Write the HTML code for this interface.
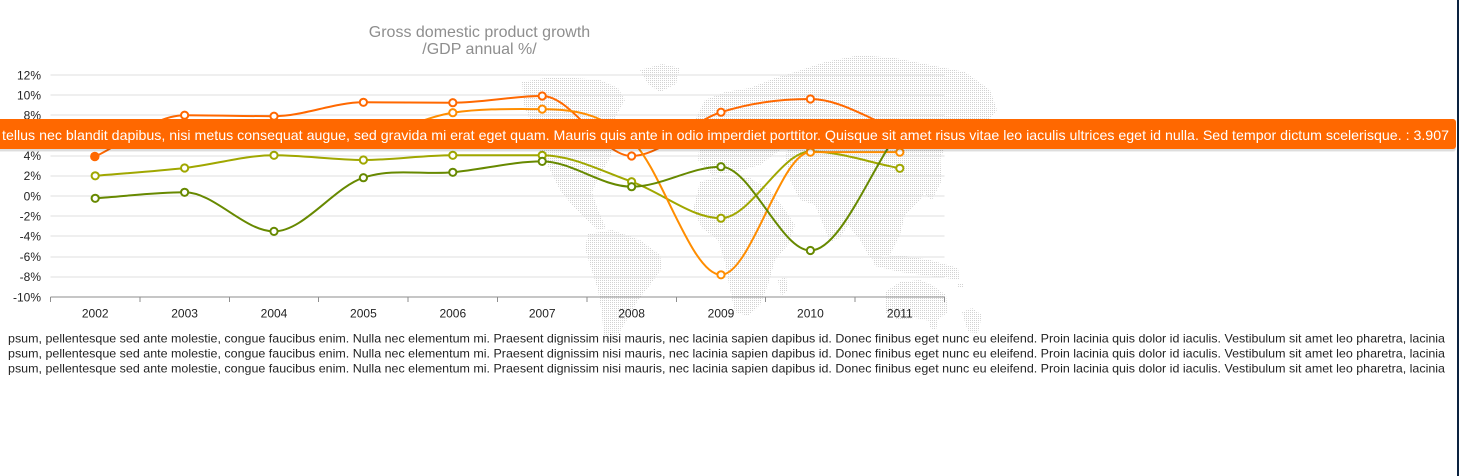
<!DOCTYPE html>
<html>
<head>
<meta charset="utf-8">
<style>
html,body{margin:0;padding:0;background:#fff;}
body{width:1459px;height:476px;overflow:hidden;position:relative;}
svg{position:absolute;left:0;top:0;display:block;}
text{font-family:"Liberation Sans",Arial,sans-serif;}
</style>
</head>
<body>
<svg width="1459" height="476" viewBox="0 0 1459 476" xmlns="http://www.w3.org/2000/svg">
<defs>
<pattern id="dots" width="2" height="2" patternUnits="userSpaceOnUse">
<rect x="0" y="0" width="1" height="1" fill="#d2d2d2"/>
</pattern>
</defs>

<!-- world map -->
<g fill="url(#dots)">
<polygon points="522,82 545,78 575,78 600,80 618,88 625,100 618,112 612,125 614,140 610,158 600,175 592,192 598,210 606,228 598,230 585,218 572,205 560,190 550,170 540,150 532,125 524,105"/>
<polygon points="640,70 662,64 680,68 676,84 660,92 648,84"/>
<polygon points="588,234 612,230 640,240 660,255 662,268 650,285 638,300 628,318 618,335 610,345 604,338 602,315 598,290 590,265 585,248"/>
<polygon points="695,120 705,100 725,92 750,88 775,78 795,72 800,95 792,125 780,150 760,165 735,172 712,175 698,160 700,140"/>
<polygon points="700,182 725,175 750,178 770,190 785,210 795,225 788,245 775,260 768,285 760,305 748,316 735,312 730,290 725,262 718,240 702,228 693,210"/>
<polygon points="778,280 786,277 788,290 781,296"/>
<polygon points="795,72 825,62 860,55 895,58 930,65 965,72 990,90 997,110 985,125 965,130 948,140 940,160 932,180 920,200 905,215 900,235 890,255 870,258 860,240 848,225 840,238 830,242 822,222 815,205 800,200 790,180 785,160 792,125 800,95"/>
<polygon points="930,160 940,155 942,180 932,200 925,195"/>
<polygon points="872,258 900,255 930,260 958,268 960,280 930,276 900,272 875,266"/>
<polygon points="885,292 900,282 920,280 932,285 946,295 948,312 935,322 915,318 898,320 885,312"/>
<polygon points="930,322 938,322 936,330 930,328"/>
<polygon points="962,312 972,308 982,315 978,333 968,332"/>
<polygon points="958,283 963,283 963,288 958,288"/>
</g>

<!-- title -->
<text x="479.5" y="37" font-size="16" fill="#8e8e8e" text-anchor="middle">Gross domestic product growth</text>
<text x="479.5" y="54" font-size="16" fill="#8e8e8e" text-anchor="middle">/GDP annual %/</text>

<!-- gridlines -->
<g stroke="#dfdfdf" stroke-width="1" shape-rendering="crispEdges">
<line x1="50.5" y1="75" x2="944.5" y2="75"/>
<line x1="50.5" y1="95" x2="944.5" y2="95"/>
<line x1="50.5" y1="115" x2="944.5" y2="115"/>
<line x1="50.5" y1="135" x2="944.5" y2="135"/>
<line x1="50.5" y1="156" x2="944.5" y2="156"/>
<line x1="50.5" y1="176" x2="944.5" y2="176"/>
<line x1="50.5" y1="196" x2="944.5" y2="196"/>
<line x1="50.5" y1="216" x2="944.5" y2="216"/>
<line x1="50.5" y1="236" x2="944.5" y2="236"/>
<line x1="50.5" y1="257" x2="944.5" y2="257"/>
<line x1="50.5" y1="277" x2="944.5" y2="277"/>
</g>

<!-- axis -->
<g stroke="#8e8e8e" stroke-width="1" shape-rendering="crispEdges">
<line x1="50.5" y1="297" x2="944.5" y2="297"/>
<line x1="50.5" y1="297" x2="50.5" y2="302"/>
<line x1="139.9" y1="297" x2="139.9" y2="302"/>
<line x1="229.3" y1="297" x2="229.3" y2="302"/>
<line x1="318.7" y1="297" x2="318.7" y2="302"/>
<line x1="408.1" y1="297" x2="408.1" y2="302"/>
<line x1="497.5" y1="297" x2="497.5" y2="302"/>
<line x1="586.9" y1="297" x2="586.9" y2="302"/>
<line x1="676.3" y1="297" x2="676.3" y2="302"/>
<line x1="765.7" y1="297" x2="765.7" y2="302"/>
<line x1="855.1" y1="297" x2="855.1" y2="302"/>
<line x1="944.5" y1="297" x2="944.5" y2="302"/>
</g>

<!-- y labels -->
<g font-size="12" fill="#232323" text-anchor="end">
<text x="41" y="79.3">12%</text>
<text x="41" y="99.3">10%</text>
<text x="41" y="119.5">8%</text>
<text x="41" y="139.7">6%</text>
<text x="41" y="159.9">4%</text>
<text x="41" y="180.1">2%</text>
<text x="41" y="200.3">0%</text>
<text x="41" y="220.5">-2%</text>
<text x="41" y="240.7">-4%</text>
<text x="41" y="260.9">-6%</text>
<text x="41" y="281.1">-8%</text>
<text x="41" y="301.3">-10%</text>
</g>

<!-- x labels -->
<g font-size="12" fill="#232323" text-anchor="middle">
<text x="95.2" y="317.5">2002</text>
<text x="184.6" y="317.5">2003</text>
<text x="274" y="317.5">2004</text>
<text x="363.4" y="317.5">2005</text>
<text x="452.8" y="317.5">2006</text>
<text x="542.2" y="317.5">2007</text>
<text x="631.6" y="317.5">2008</text>
<text x="721" y="317.5">2009</text>
<text x="810.4" y="317.5">2010</text>
<text x="899.8" y="317.5">2011</text>
</g>

<!-- series 1: dark orange -->
<path fill="none" stroke="#ff6800" stroke-width="2" d="M95.2,156.5 C125,142.73 154.8,115.2 184.6,115.2 C214.4,115.2 244.2,116.2 274,116.2 C303.8,116.2 333.6,102.3 363.4,102.3 C393.2,102.3 423,102.7 452.8,102.7 C482.6,102.7 512.4,96 542.2,96 C572,96 601.8,156 631.6,156 C661.4,156 691.2,121.7 721,112.2 C750.8,102.7 780.6,99 810.4,99 C840.2,99 870,119.93 899.8,130.4"/>
<g fill="#fff" stroke="#ff6800" stroke-width="2">
<circle cx="184.6" cy="115.2" r="3.6"/>
<circle cx="274" cy="116.2" r="3.6"/>
<circle cx="363.4" cy="102.3" r="3.6"/>
<circle cx="452.8" cy="102.7" r="3.6"/>
<circle cx="542.2" cy="96" r="3.6"/>
<circle cx="631.6" cy="156" r="3.6"/>
<circle cx="721" cy="112.2" r="3.6"/>
<circle cx="810.4" cy="99" r="3.6"/>
<circle cx="899.8" cy="130.4" r="3.6"/>
</g>
<circle cx="94.8" cy="156.5" r="4.7" fill="#ff6800"/>

<!-- series 2: light green -->
<path fill="none" stroke="#a0a700" stroke-width="2" d="M95.2,175.8 C125,173.2 154.8,171.42 184.6,168 C214.4,164.58 244.2,155.3 274,155.3 C303.8,155.3 333.6,160 363.4,160 C393.2,160 423,155.3 452.8,155.3 C482.6,155.3 512.4,155.3 542.2,155.3 C572,155.3 601.8,171.22 631.6,181.7 C661.4,192.18 691.2,218.2 721,218.2 C750.8,218.2 780.6,151.56 810.4,151.56 C840.2,151.56 870,162.72 899.8,168.3"/>
<g fill="#fff" stroke="#a0a700" stroke-width="2">
<circle cx="95.2" cy="175.8" r="3.6"/>
<circle cx="184.6" cy="168" r="3.6"/>
<circle cx="274" cy="155.3" r="3.6"/>
<circle cx="363.4" cy="160" r="3.6"/>
<circle cx="452.8" cy="155.3" r="3.6"/>
<circle cx="542.2" cy="155.3" r="3.6"/>
<circle cx="631.6" cy="181.7" r="3.6"/>
<circle cx="721" cy="218.2" r="3.6"/>
<circle cx="810.4" cy="151.56" r="3.6"/>
<circle cx="899.8" cy="168.3" r="3.6"/>
</g>

<!-- series 3: light orange -->
<path fill="none" stroke="#ff8d00" stroke-width="2" d="M95.2,135.4 C125,133.72 154.8,130.35 184.6,130.35 C214.4,130.35 244.2,130.35 274,130.35 C303.8,130.35 333.6,135.4 363.4,135.4 C393.2,135.4 423,117.08 452.8,112.7 C482.6,108.32 512.4,109.1 542.2,109.1 C572,109.1 601.8,112.83 631.6,140.45 C661.4,168.07 691.2,274.8 721,274.8 C750.8,274.8 780.6,152.1 810.4,152.1 C840.2,152.1 870,152.1 899.8,152.1"/>
<g fill="#fff" stroke="#ff8d00" stroke-width="2">
<circle cx="95.2" cy="135.4" r="3.6"/>
<circle cx="184.6" cy="130.35" r="3.6"/>
<circle cx="274" cy="130.35" r="3.6"/>
<circle cx="363.4" cy="135.4" r="3.6"/>
<circle cx="452.8" cy="112.7" r="3.6"/>
<circle cx="542.2" cy="109.1" r="3.6"/>
<circle cx="631.6" cy="140.45" r="3.6"/>
<circle cx="721" cy="274.8" r="3.6"/>
<circle cx="810.4" cy="152.1" r="3.6"/>
<circle cx="899.8" cy="152.1" r="3.6"/>
</g>

<!-- series 4: dark green -->
<path fill="none" stroke="#678900" stroke-width="2" d="M95.2,198.3 C125,196.3 154.8,192.3 184.6,192.3 C214.4,192.3 244.2,231.35 274,231.35 C303.8,231.35 333.6,187.54 363.4,177.7 C393.2,167.86 423,175.02 452.8,172.3 C482.6,169.58 512.4,161.4 542.2,161.4 C572,161.4 601.8,186.7 631.6,186.7 C661.4,186.7 691.2,166.7 721,166.7 C750.8,166.7 780.6,250.5 810.4,250.5 C840.2,250.5 870,170.4 899.8,130.35"/>
<g fill="#fff" stroke="#678900" stroke-width="2">
<circle cx="95.2" cy="198.3" r="3.6"/>
<circle cx="184.6" cy="192.3" r="3.6"/>
<circle cx="274" cy="231.35" r="3.6"/>
<circle cx="363.4" cy="177.7" r="3.6"/>
<circle cx="452.8" cy="172.3" r="3.6"/>
<circle cx="542.2" cy="161.4" r="3.6"/>
<circle cx="631.6" cy="186.7" r="3.6"/>
<circle cx="721" cy="166.7" r="3.6"/>
<circle cx="810.4" cy="250.5" r="3.6"/>
<circle cx="899.8" cy="130.35" r="3.6"/>
</g>

<!-- bottom text -->
<g font-size="12" fill="#232323">
<text x="8" y="342.5" textLength="1437" lengthAdjust="spacingAndGlyphs">psum, pellentesque sed ante molestie, congue faucibus enim. Nulla nec elementum mi. Praesent dignissim nisi mauris, nec lacinia sapien dapibus id. Donec finibus eget nunc eu eleifend. Proin lacinia quis dolor id iaculis. Vestibulum sit amet leo pharetra, lacinia</text>
<text x="8" y="357.5" textLength="1437" lengthAdjust="spacingAndGlyphs">psum, pellentesque sed ante molestie, congue faucibus enim. Nulla nec elementum mi. Praesent dignissim nisi mauris, nec lacinia sapien dapibus id. Donec finibus eget nunc eu eleifend. Proin lacinia quis dolor id iaculis. Vestibulum sit amet leo pharetra, lacinia</text>
<text x="8" y="372.5" textLength="1437" lengthAdjust="spacingAndGlyphs">psum, pellentesque sed ante molestie, congue faucibus enim. Nulla nec elementum mi. Praesent dignissim nisi mauris, nec lacinia sapien dapibus id. Donec finibus eget nunc eu eleifend. Proin lacinia quis dolor id iaculis. Vestibulum sit amet leo pharetra, lacinia</text>
</g>

<!-- tooltip -->
<rect x="-10" y="122" width="1466" height="30" rx="3" fill="#000" opacity="0.06"/>
<rect x="-10" y="121" width="1466" height="30" rx="3" fill="#000" opacity="0.08"/>
<rect x="-10" y="119" width="1466" height="30" rx="3" fill="#ff6800"/>
<text x="2" y="140" font-size="14" fill="#fff" textLength="1447" lengthAdjust="spacingAndGlyphs">tellus nec blandit dapibus, nisi metus consequat augue, sed gravida mi erat eget quam. Mauris quis ante in odio imperdiet porttitor. Quisque sit amet risus vitae leo iaculis ultrices eget id nulla. Sed tempor dictum scelerisque. : 3.907</text>

<!-- right edge bar -->
<rect x="1457" y="0" width="2" height="476" fill="#0c2340"/>
</svg>
</body>
</html>
